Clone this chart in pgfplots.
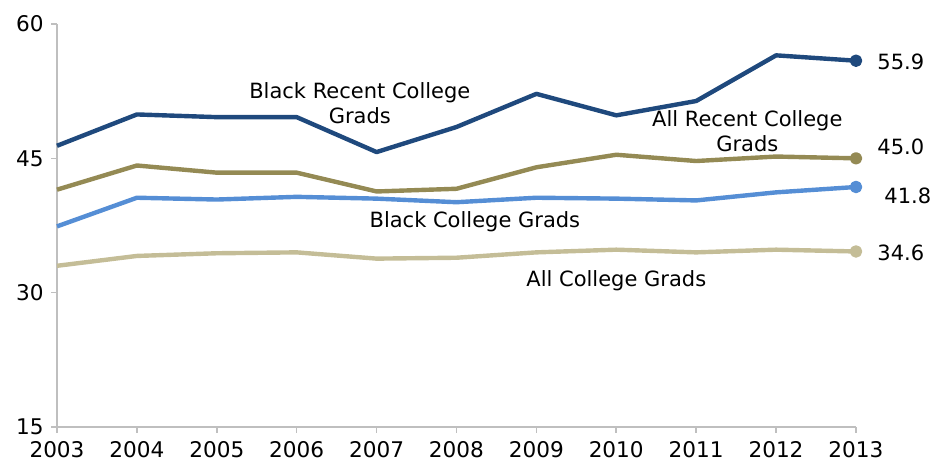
\documentclass[border=0pt]{standalone}
\usepackage{pgfplots}
\pgfplotsset{compat=1.18}
\usepackage{fontspec}
\setmainfont{DejaVu Sans}
\definecolor{cdark}{HTML}{1F497D}
\definecolor{colive}{HTML}{948A54}
\definecolor{clight}{HTML}{558ED5}
\definecolor{ctan}{HTML}{C4BD97}
\definecolor{caxis}{HTML}{BFBFBF}
\begin{document}
\fontsize{10.5}{12.6}\selectfont
\begin{tikzpicture}
\useasboundingbox (0,0) rectangle (467pt,233pt);
\begin{axis}[
  at={(28.5pt,19.5pt)}, anchor=south west,
  scale only axis, width=399.5pt, height=201.5pt,
  xmin=2003, xmax=2013, ymin=15, ymax=60,
  xtick={2003,...,2013}, ytick={15,30,45,60},
  axis x line*=bottom, axis y line*=left,
  axis line style={caxis, line width=0.8pt},
  every tick/.style={caxis, line width=0.8pt},
  tick align=outside, major tick length=3pt,
  x tick label style={/pgf/number format/1000 sep=, font=\fontsize{10.8}{12.6}\selectfont},
  y tick label style={font=\fontsize{10.8}{12.6}\selectfont},
  /pgf/number format/assume math mode=true,
  xticklabel style={yshift=-2.5pt, inner ysep=1.5pt},
  clip=false,
  every axis plot/.append style={line width=2.2pt, line join=round},
]
\addplot[ctan, mark=none] coordinates {(2003,33.0)(2004,34.1)(2005,34.4)(2006,34.5)(2007,33.8)(2008,33.9)(2009,34.5)(2010,34.8)(2011,34.5)(2012,34.8)(2013,34.6)};
\addplot[clight, mark=none] coordinates {(2003,37.4)(2004,40.6)(2005,40.4)(2006,40.7)(2007,40.5)(2008,40.1)(2009,40.6)(2010,40.5)(2011,40.3)(2012,41.2)(2013,41.8)};
\addplot[colive, mark=none] coordinates {(2003,41.5)(2004,44.2)(2005,43.4)(2006,43.4)(2007,41.3)(2008,41.6)(2009,44.0)(2010,45.4)(2011,44.7)(2012,45.2)(2013,45.0)};
\addplot[cdark, mark=none] coordinates {(2003,46.4)(2004,49.9)(2005,49.6)(2006,49.6)(2007,45.7)(2008,48.5)(2009,52.2)(2010,49.8)(2011,51.4)(2012,56.5)(2013,55.9)};
\addplot[ctan, only marks, mark=*, mark size=2pt] coordinates {(2013,34.6)};
\addplot[clight, only marks, mark=*, mark size=2pt] coordinates {(2013,41.8)};
\addplot[colive, only marks, mark=*, mark size=2pt] coordinates {(2013,45.0)};
\addplot[cdark, only marks, mark=*, mark size=2pt] coordinates {(2013,55.9)};
\node[anchor=west, xshift=7pt] at (axis cs:2013,55.8) {55.9};
\node[anchor=west, xshift=7pt] at (axis cs:2013,46.3) {45.0};
\node[anchor=west, xshift=10.5pt] at (axis cs:2013,40.8) {41.8};
\node[anchor=west, xshift=7pt] at (axis cs:2013,34.4) {34.6};
\node[align=center, inner sep=0pt] at (axis cs:2006.79,51.2) {Black Recent College\\Grads};
\node[align=center, inner sep=0pt] at (axis cs:2011.64,48.0) {All Recent College\\Grads};
\node[inner sep=0pt] at (axis cs:2008.23,37.95) {Black College Grads};
\node[inner sep=0pt] at (axis cs:2010.0,31.3) {All College Grads};
\end{axis}
\end{tikzpicture}
\end{document}
